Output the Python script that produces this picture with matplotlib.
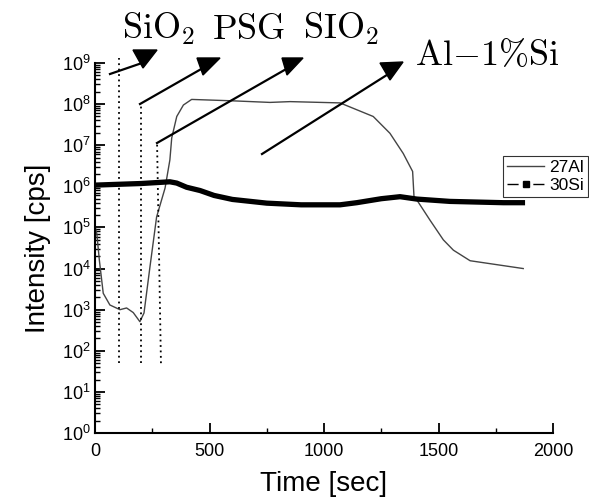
import matplotlib
matplotlib.use('Agg')
import matplotlib.pyplot as plt
from matplotlib.lines import Line2D
from matplotlib.patches import Polygon
from matplotlib.ticker import LogLocator, MultipleLocator
import numpy as np

plt.rcParams['font.family'] = ['Liberation Sans', 'DejaVu Sans']
plt.rcParams['mathtext.fontset'] = 'custom'
plt.rcParams['mathtext.rm'] = 'Liberation Sans'
plt.rcParams['mathtext.default'] = 'regular'

# 27Al depth profile (time in sec, counts per sec)
al_time = [0, 8, 19, 36, 65, 109, 138, 167, 196, 214, 240, 269, 306, 327, 335,
           357, 386, 422, 604, 764, 852, 1070, 1215, 1288, 1346, 1387, 1393,
           1405, 1463, 1521, 1565, 1638, 1870]
al_cps = [1.1e5, 7e4, 1.6e4, 2.5e3, 1.3e3, 1.0e3, 1.1e3, 8.5e2, 5.1e2, 8.3e2,
          1.1e4, 1.8e5, 9.1e5, 4.4e6, 1.5e7, 5e7, 9.5e7, 1.3e8, 1.2e8, 1.1e8,
          1.15e8, 1.07e8, 5e7, 1.95e7, 6.3e6, 2.3e6, 5.6e5, 4.7e5, 1.5e5, 5e4,
          2.8e4, 1.55e4, 1.0e4]

# 30Si depth profile
si_time = [0, 100, 200, 327, 357, 400, 459, 520, 600, 750, 900, 1070, 1143,
           1250, 1332, 1405, 1550, 1783, 1878]
si_cps = [1.07e6, 1.12e6, 1.17e6, 1.29e6, 1.2e6, 9.5e5, 7.9e5, 6.0e5, 4.8e5,
          3.9e5, 3.55e5, 3.55e5, 4.0e5, 5.0e5, 5.6e5, 4.9e5, 4.3e5, 4.0e5, 4.0e5]

# layer boundaries (dotted lines): (time at bottom, time at top, top cps)
bounds = [(106, 106, 1.3e9), (200, 200, 1.0e8), (288, 271, 1.15e7)]
bound_low = 50

layer_labels = [r'$\mathrm{SiO_2}$', r'$\mathrm{PSG}$', r'$\mathrm{SIO_2}$']
metal_label = r'$\mathrm{Al{-}1\%Si}$'

W, H = 589, 501
fig = plt.figure(figsize=(W / 100, H / 100), dpi=100)
ax = fig.add_axes([95 / W, 1 - 433 / H, 458 / W, 370 / H])

ax.plot(al_time, al_cps, color='#444444', lw=1.0)
ax.plot(si_time, si_cps, color='black', lw=3.8, solid_capstyle='butt')

for xb, xt, top in bounds:
    ax.plot([xb, xt], [bound_low, top], color='black', lw=1.3,
            linestyle=(0, (1, 2)), clip_on=False)

ax.set_yscale('log')
ax.set_xlim(0, 2000)
ax.set_ylim(1, 1e9)
ax.yaxis.set_major_locator(LogLocator(base=10, numticks=12))
ax.yaxis.set_minor_locator(LogLocator(base=10, subs=np.arange(2, 10), numticks=12))
ax.xaxis.set_major_locator(MultipleLocator(500))
ax.xaxis.set_minor_locator(MultipleLocator(250))

for s in ['top', 'right']:
    ax.spines[s].set_visible(False)
for s in ['left', 'bottom']:
    ax.spines[s].set_linewidth(1.5)

ax.tick_params(which='major', direction='in', length=7, width=1.3,
               labelsize=13, pad=7)
ax.tick_params(which='minor', direction='in', length=3.5, width=1.0)
ax.tick_params(axis='y', which='major', pad=3)

ax.set_xlabel('Time [sec]', fontsize=20, labelpad=8)
ax.set_ylabel('Intensity [cps]', fontsize=20, labelpad=8)

handles = [Line2D([], [], color='#444444', lw=1.0),
           Line2D([], [], color='black', lw=1.0, dashes=(8, 10.6),
                  marker='s', markersize=4)]
leg = ax.legend(handles, ['27Al', '30Si'], loc='upper left',
                bbox_to_anchor=(0.891, 0.749), fontsize=12.5, frameon=True,
                fancybox=False, borderpad=0.25, labelspacing=0.15,
                handlelength=2.1, handletextpad=0.3, borderaxespad=0)
leg.get_frame().set_edgecolor('black')
leg.get_frame().set_linewidth(0.8)


def fp(x, y):
    return (x / W, 1 - y / H)


# arrows: start point, line end, triangle head (pixel positions)
arrows = [((110, 74), (142, 63), [(133, 50), (157, 50), (143, 68)]),
          ((140, 104), (203, 68), [(197, 58), (220, 58), (203, 75)]),
          ((157, 143), (288, 68), [(282, 58), (303, 58), (287, 75)]),
          ((262, 154), (390, 73), [(380, 63), (403, 62), (390, 80)])]
for p0, p1, tri in arrows:
    a, b = fp(*p0), fp(*p1)
    fig.add_artist(Line2D([a[0], b[0]], [a[1], b[1]], color='black', lw=1.6,
                          transform=fig.transFigure))
    fig.add_artist(Polygon([fp(*p) for p in tri], closed=True, color='black',
                           transform=fig.transFigure))

for lab, xl in zip(layer_labels, [122, 212, 303]):
    fig.text(*fp(xl, 39), lab, fontsize=26, math_fontfamily='cm',
             ha='left', va='baseline')
fig.text(*fp(415, 65), metal_label, fontsize=26, math_fontfamily='cm',
         ha='left', va='baseline')

fig.savefig('out.png', dpi=100)
